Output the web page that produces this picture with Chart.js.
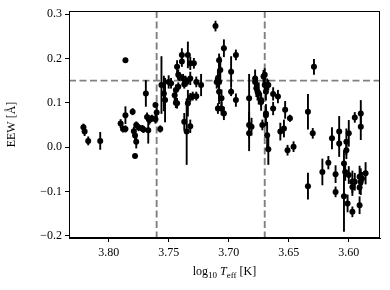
<!DOCTYPE html>
<html>
<head>
<meta charset="utf-8">
<script src="https://cdn.jsdelivr.net/npm/chart.js@4.4.0/dist/chart.umd.min.js"></script>
<style>
  html, body { margin: 0; padding: 0; background: #fff; }
  #wrap { width: 390px; height: 290px; position: relative; }
</style>
</head>
<body>
<div id="wrap"><canvas id="chart"></canvas></div>
<script>
// log10 Teff of each star
const TEFF = [
  3.786, 3.821, 3.820, 3.817, 3.807, 3.786, 3.790, 3.788, 3.786, 3.780,
  3.779, 3.778, 3.777, 3.778, 3.777, 3.775, 3.772, 3.771, 3.769, 3.768,
  3.767, 3.766, 3.764, 3.761, 3.760, 3.761, 3.757, 3.756, 3.754, 3.753,
  3.750, 3.748,
  3.743, 3.742, 3.739, 3.739, 3.744, 3.745, 3.743, 3.742, 3.741, 3.738,
  3.736, 3.734, 3.732, 3.732, 3.735, 3.737, 3.729, 3.727, 3.723, 3.732,
  3.730, 3.727, 3.734, 3.737, 3.732, 3.735, 3.744,
  3.711, 3.704, 3.694, 3.708, 3.707, 3.709, 3.710, 3.708, 3.708, 3.706,
  3.706, 3.709, 3.704, 3.698, 3.698, 3.694, 3.683, 3.683, 3.681, 3.683,
  3.678, 3.677, 3.675, 3.673, 3.670, 3.670, 3.668, 3.669, 3.672, 3.668,
  3.667,
  3.629, 3.678, 3.671, 3.676, 3.673, 3.669, 3.667, 3.663, 3.659, 3.663,
  3.669, 3.653, 3.649, 3.634, 3.630, 3.657, 3.654, 3.651, 3.646, 3.622,
  3.614, 3.608, 3.608, 3.600, 3.602, 3.602, 3.595, 3.590, 3.590, 3.617,
  3.611, 3.611, 3.604, 3.603, 3.600, 3.604, 3.601, 3.597, 3.597, 3.597,
  3.595, 3.591, 3.591, 3.590, 3.591, 3.589, 3.586, 3.634
];

// equivalent width excess in Angstrom
const EEW = [
  0.196, 0.045, 0.035, 0.014, 0.014, 0.072, 0.053, 0.041, 0.041, 0.080,
  0.036, 0.026, 0.012, -0.020, 0.050, 0.044, 0.042, 0.040, 0.121, 0.068,
  0.038, 0.061, 0.065, 0.095, 0.078, 0.063, 0.041, 0.140, 0.121, 0.106,
  0.147, 0.144,
  0.181, 0.163, 0.208, 0.193, 0.129, 0.117, 0.099, 0.136, 0.159, 0.155,
  0.151, 0.208, 0.189, 0.155, 0.147, 0.142, 0.189, 0.147, 0.140, 0.112,
  0.115, 0.115, 0.099, 0.057, 0.047, 0.035, 0.100,
  0.273, 0.223, 0.208, 0.196, 0.174, 0.155, 0.147, 0.147, 0.125, 0.110,
  0.087, 0.087, 0.076, 0.170, 0.125, 0.106, 0.110, 0.050, 0.046, 0.031,
  0.155, 0.133, 0.121, 0.106, 0.163, 0.140, 0.140, 0.072, 0.050, 0.027,
  -0.005,
  0.181, 0.147, 0.159, 0.125, 0.102, 0.125, 0.140, 0.120, 0.114, 0.087,
  0.076, 0.084, 0.065, 0.080, 0.031, 0.035, 0.042, -0.007, 0.001, -0.056,
  0.020, 0.035, 0.008, 0.031, 0.012, -0.007, 0.067, 0.076, 0.046, -0.035,
  -0.061, -0.101, -0.037, -0.056, -0.063, -0.111, -0.127, -0.146, -0.078, -0.090,
  -0.078, -0.067, -0.091, -0.078, -0.131, -0.071, -0.059, -0.088
];

// 1-sigma uncertainty on EEW
const EEW_ERR = [
  0.004, 0.008, 0.010, 0.010, 0.020, 0.020, 0.010, 0.008, 0.008, 0.008,
  0.010, 0.010, 0.015, 0.004, 0.008, 0.008, 0.008, 0.008, 0.030, 0.010,
  0.030, 0.010, 0.008, 0.005, 0.012, 0.010, 0.008, 0.065, 0.040, 0.050,
  0.015, 0.012,
  0.015, 0.012, 0.015, 0.012, 0.012, 0.012, 0.012, 0.010, 0.010, 0.010,
  0.010, 0.030, 0.015, 0.015, 0.010, 0.010, 0.012, 0.012, 0.025, 0.010,
  0.010, 0.010, 0.030, 0.020, 0.015, 0.075, 0.012,
  0.012, 0.020, 0.012, 0.015, 0.030, 0.020, 0.015, 0.050, 0.020, 0.020,
  0.015, 0.012, 0.015, 0.035, 0.010, 0.015, 0.055, 0.030, 0.020, 0.040,
  0.020, 0.020, 0.025, 0.015, 0.015, 0.015, 0.015, 0.025, 0.012, 0.030,
  0.035,
  0.018, 0.015, 0.015, 0.020, 0.020, 0.020, 0.012, 0.015, 0.015, 0.015,
  0.015, 0.020, 0.008, 0.040, 0.012, 0.020, 0.020, 0.012, 0.012, 0.030,
  0.025, 0.035, 0.030, 0.030, 0.030, 0.020, 0.012, 0.030, 0.030, 0.015,
  0.020, 0.012, 0.030, 0.020, 0.020, 0.080, 0.020, 0.012, 0.025, 0.020,
  0.020, 0.025, 0.015, 0.030, 0.020, 0.015, 0.025, 0.030
];

const X_TICKS = [3.80, 3.75, 3.70, 3.65, 3.60];
const Y_TICKS = [-0.2, -0.1, 0.0, 0.1, 0.2, 0.3];
const TEFF_CUTS = [3.76, 3.67];
const EEW_CUT = 0.15;

const points = TEFF.map(function (t, i) {
  return { x: t, y: EEW[i] };
});

const FONT = "'Liberation Serif', 'DejaVu Serif', serif";

const errorBars = {
  id: 'errorBars',
  beforeDatasetsDraw: function (chart) {
    const ctx = chart.ctx;
    const xs = chart.scales.x;
    const ys = chart.scales.y;
    ctx.save();
    ctx.strokeStyle = '#000';
    ctx.lineWidth = 1.9;
    TEFF.forEach(function (t, i) {
      const px = xs.getPixelForValue(t);
      ctx.beginPath();
      ctx.moveTo(px, ys.getPixelForValue(EEW[i] - EEW_ERR[i]));
      ctx.lineTo(px, ys.getPixelForValue(EEW[i] + EEW_ERR[i]));
      ctx.stroke();
    });
    ctx.restore();
  }
};

const cutLines = {
  id: 'cutLines',
  beforeDatasetsDraw: function (chart) {
    const ctx = chart.ctx;
    const area = chart.chartArea;
    const xs = chart.scales.x;
    const ys = chart.scales.y;
    ctx.save();
    ctx.strokeStyle = '#808080';
    ctx.lineWidth = 1.9;
    ctx.setLineDash([7, 3.5]);
    TEFF_CUTS.forEach(function (t) {
      const px = xs.getPixelForValue(t);
      ctx.beginPath();
      ctx.moveTo(px, area.top);
      ctx.lineTo(px, area.bottom);
      ctx.stroke();
    });
    const py = ys.getPixelForValue(EEW_CUT);
    ctx.beginPath();
    ctx.moveTo(area.left, py);
    ctx.lineTo(area.right, py);
    ctx.stroke();
    ctx.restore();
  }
};

const frameAndTitle = {
  id: 'frameAndTitle',
  afterDraw: function (chart) {
    const ctx = chart.ctx;
    const a = chart.chartArea;
    ctx.save();
    ctx.strokeStyle = '#000';
    ctx.lineWidth = 1;
    ctx.strokeRect(a.left + 0.5, a.top + 0.5, a.right - a.left - 1, a.bottom - a.top - 1);

    // x label: log10 T_eff [K]
    const parts = [
      { text: 'log', font: '12px ' + FONT, dy: 0 },
      { text: '10', font: '9px ' + FONT, dy: 3 },
      { text: ' ', font: '12px ' + FONT, dy: 0 },
      { text: 'T', font: 'italic 12px ' + FONT, dy: 0 },
      { text: 'eff', font: '9px ' + FONT, dy: 3 },
      { text: ' [K]', font: '12px ' + FONT, dy: 0 }
    ];
    let total = 0;
    parts.forEach(function (p) {
      ctx.font = p.font;
      p.w = ctx.measureText(p.text).width;
      total += p.w;
    });
    let x = (a.left + a.right) / 2 - total / 2;
    const base = 275;
    ctx.fillStyle = '#000';
    ctx.textBaseline = 'alphabetic';
    parts.forEach(function (p) {
      ctx.font = p.font;
      ctx.fillText(p.text, x, base + p.dy);
      x += p.w;
    });
    ctx.restore();
  }
};

new Chart(document.getElementById('chart'), {
  type: 'scatter',
  data: {
    datasets: [
      {
        data: points,
        backgroundColor: '#000',
        borderWidth: 0,
        pointRadius: 3
      }
    ]
  },
  options: {
    responsive: true,
    maintainAspectRatio: false,
    animation: false,
    layout: { padding: { top: 11, right: 10, left: 0, bottom: 0 } },
    plugins: {
      legend: { display: false },
      tooltip: { enabled: false }
    },
    scales: {
      x: {
        type: 'linear',
        reverse: true,
        min: 3.574,
        max: 3.833,
        afterBuildTicks: function (scale) {
          scale.ticks = X_TICKS.map(function (v) { return { value: v }; });
        },
        afterFit: function (scale) {
          scale.height = 52;
        },
        ticks: {
          color: '#000',
          padding: 4,
          font: { family: FONT, size: 12 },
          callback: function (v) { return v.toFixed(2); }
        },
        grid: { drawOnChartArea: false, tickLength: 4, color: '#000', tickWidth: 1 },
        border: { display: true, color: '#000' },
        title: { display: false }
      },
      y: {
        type: 'linear',
        min: -0.205,
        max: 0.307,
        afterBuildTicks: function (scale) {
          scale.ticks = Y_TICKS.map(function (v) { return { value: v }; });
        },
        afterFit: function (scale) {
          scale.width = 69;
        },
        ticks: {
          color: '#000',
          padding: 3,
          font: { family: FONT, size: 12 },
          callback: function (v) {
            const s = Math.abs(v).toFixed(1);
            return v < -1e-9 ? '\u2212' + s : s;
          }
        },
        grid: { drawOnChartArea: false, tickLength: 4, color: '#000', tickWidth: 1 },
        border: { display: true, color: '#000' },
        title: {
          display: true,
          text: 'EEW [\u00c5]',
          color: '#000',
          font: { family: FONT, size: 12 },
          padding: { top: 5, bottom: 0 }
        }
      }
    }
  },
  plugins: [cutLines, errorBars, frameAndTitle]
});
</script>
</body>
</html>
